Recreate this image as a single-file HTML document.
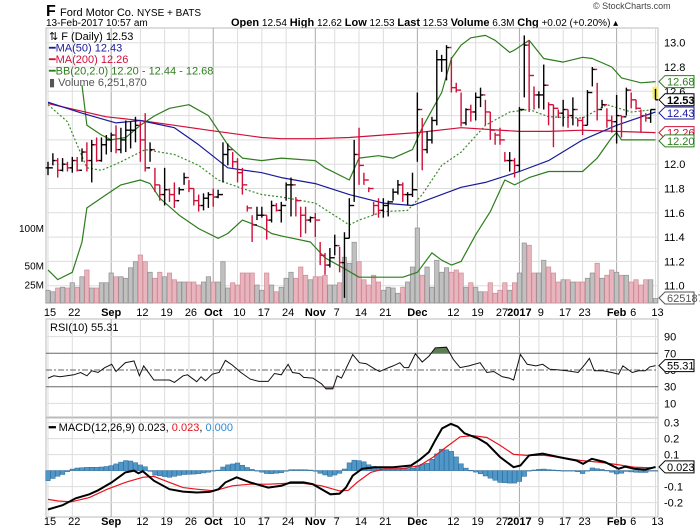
<!DOCTYPE html>
<html><head><meta charset="utf-8">
<style>
body{margin:0;background:#fff;width:700px;height:530px;overflow:hidden;font-family:"Liberation Sans",sans-serif}
svg{position:absolute;left:0;top:0}
text{font-family:"Liberation Sans",sans-serif}
</style></head>
<body>
<svg id="c" width="700" height="530" viewBox="0 0 700 530">
  <text x="46" y="16" font-size="16" font-weight="bold">F</text>
  <text x="60" y="16" font-size="11">Ford Motor Co. <tspan font-size="10">NYSE + BATS</tspan></text>
  <text x="593" y="9" font-size="9" fill="#444">© StockCharts.com</text>
  <text x="46" y="26" font-size="10">13-Feb-2017 10:57 am</text>
  <text x="231" y="26" font-size="10"><tspan font-weight="bold" font-size="11">Open</tspan> 12.54 <tspan font-weight="bold" font-size="11">High</tspan> 12.62 <tspan font-weight="bold" font-size="11">Low</tspan> 12.53 <tspan font-weight="bold" font-size="11">Last</tspan> 12.53 <tspan font-weight="bold" font-size="11">Volume</tspan> 6.3M <tspan font-weight="bold" font-size="11">Chg</tspan> +0.02 (+0.20%) ▴</text>
  <g id="g"></g>
</svg>
<script>
const hi=[12.02,12.09,12.05,12.05,12.02,12.06,12.06,12.13,12.18,12.20,12.22,12.22,12.24,12.26,12.32,12.30,12.36,12.35,12.39,12.35,12.42,12.18,11.97,11.83,11.97,11.80,11.85,11.81,11.93,11.87,11.80,11.75,11.76,11.77,11.80,11.79,12.18,12.17,12.10,12.05,11.97,11.66,11.58,11.65,11.65,11.58,11.70,11.68,11.69,11.85,11.89,11.73,11.65,11.65,11.57,11.60,11.36,11.27,11.31,11.42,11.32,11.44,11.72,12.20,12.30,11.93,11.81,11.69,11.72,11.72,11.70,11.80,11.87,11.85,11.77,11.93,12.59,12.38,12.27,12.39,12.94,12.90,12.98,12.88,12.67,12.59,12.46,12.49,12.59,12.63,12.53,12.43,12.26,12.30,12.10,12.10,12.05,12.47,13.06,13.02,12.64,12.60,12.82,12.51,12.49,12.45,12.53,12.45,12.55,12.38,12.39,12.61,12.80,12.67,12.53,12.46,12.40,12.57,12.40,12.63,12.59,12.53,12.45,12.42,12.45,12.62];
const lo=[11.91,11.99,11.89,11.94,11.94,11.93,11.94,12.02,11.94,11.85,12.02,12.02,12.08,12.10,12.09,12.09,12.10,12.13,12.18,12.02,11.94,12.02,11.77,11.70,11.66,11.69,11.64,11.75,11.83,11.77,11.66,11.61,11.62,11.64,11.65,11.72,11.85,11.99,11.97,11.85,11.75,11.61,11.36,11.54,11.56,11.38,11.52,11.61,11.52,11.70,11.57,11.57,11.40,11.43,11.52,11.40,11.17,11.09,11.15,11.25,11.11,10.90,11.39,11.69,11.83,11.83,11.77,11.58,11.56,11.56,11.57,11.70,11.75,11.69,11.66,11.73,12.02,11.95,12.09,12.17,12.32,12.76,12.69,12.59,12.59,12.31,12.32,12.35,12.36,12.47,12.32,12.20,12.16,12.16,12.02,11.94,11.89,11.94,12.55,12.43,12.45,12.46,12.45,12.32,12.14,12.38,12.31,12.30,12.32,12.31,12.24,12.32,12.64,12.36,12.46,12.30,12.26,12.17,12.22,12.40,12.46,12.45,12.26,12.35,12.34,12.53];
const cl=[11.97,12.03,11.95,12.00,11.97,12.03,11.95,12.10,12.03,12.16,12.03,12.16,12.20,12.24,12.12,12.20,12.28,12.28,12.32,12.20,11.97,12.12,11.83,11.75,11.79,11.75,11.70,11.79,11.89,11.80,11.70,11.66,11.72,11.75,11.73,11.75,12.08,12.12,12.02,11.93,11.83,11.64,11.50,11.58,11.58,11.54,11.66,11.62,11.66,11.83,11.83,11.70,11.58,11.54,11.56,11.54,11.25,11.17,11.23,11.33,11.19,11.39,11.66,12.08,11.99,11.87,11.80,11.66,11.62,11.66,11.69,11.77,11.83,11.75,11.75,11.79,12.45,12.12,12.20,12.36,12.86,12.86,12.96,12.63,12.61,12.34,12.45,12.43,12.55,12.57,12.43,12.28,12.24,12.20,12.03,12.03,11.99,12.45,12.98,12.73,12.57,12.57,12.65,12.49,12.46,12.42,12.45,12.40,12.45,12.36,12.32,12.59,12.78,12.45,12.49,12.36,12.35,12.40,12.39,12.61,12.53,12.46,12.40,12.38,12.45,12.53];
const vol=[17,15,20,21,20,27,21,35,44,20,20,27,27,40,35,35,33,47,55,64,55,41,33,41,35,40,31,28,28,28,28,24,28,35,28,28,55,20,27,24,40,40,40,24,17,40,24,15,21,33,41,33,48,37,31,35,35,37,24,24,27,61,53,81,55,31,24,37,28,17,21,20,13,21,28,48,100,37,48,21,57,41,47,41,44,40,21,27,21,15,15,27,13,17,27,17,27,40,80,77,40,40,57,48,40,28,31,31,28,28,28,33,40,53,33,37,44,41,37,37,28,31,24,31,31,6];
const ma50I=[0,7,14,19,26,31,37,44,48,55,62,69,75,79,85,90,97,103,110,117,125];
const ma50V=[12.51,12.42,12.34,12.36,12.30,12.16,11.97,11.93,11.89,11.84,11.75,11.68,11.66,11.72,11.81,11.85,11.94,12.03,12.20,12.32,12.43];
const ma200I=[0,12,19,26,33,44,48,55,62,69,76,85,97,103,110,117,125];
const ma200V=[12.50,12.39,12.36,12.32,12.28,12.22,12.21,12.21,12.22,12.24,12.26,12.30,12.27,12.27,12.28,12.27,12.26];
const bbUI=[7,8,11,13,16,19,22,25,29,33,35,37,40,44,48,55,57,62,64,68,71,75,77,81,83,85,87,90,92,95,96,99,102,106,110,112,116,118,122,125];
const bbUV=[12.65,12.32,12.24,12.20,12.22,12.32,12.40,12.46,12.49,12.40,12.28,12.16,12.05,12.03,12.05,12.03,11.97,11.87,12.05,12.07,12.05,12.12,12.30,12.59,12.87,12.98,13.04,13.06,13.02,12.92,12.94,13.02,12.87,12.84,12.88,12.87,12.80,12.71,12.67,12.68];
const bbLI=[0,2,5,7,8,12,15,19,21,23,27,31,35,37,40,44,46,48,54,57,61,64,69,73,76,79,81,83,85,88,91,94,96,99,103,110,113,116,117,118,125];
const bbLV=[11.13,11.05,11.11,11.36,11.64,11.75,11.83,11.87,11.84,11.72,11.58,11.47,11.39,11.43,11.54,11.48,11.43,11.41,11.36,11.23,11.14,11.07,11.07,11.07,11.11,11.27,11.21,11.17,11.20,11.42,11.61,11.87,11.83,11.89,11.94,11.94,12.05,12.22,12.26,12.20,12.20];
const bbMI=[0,4,8,11,15,20,26,31,35,40,44,48,55,62,64,69,74,77,81,85,90,95,99,103,110,115,120,125];
const bbMV=[12.49,12.35,11.97,11.95,12.02,12.12,12.08,11.99,11.87,11.80,11.75,11.73,11.68,11.50,11.54,11.61,11.62,11.75,11.99,12.10,12.32,12.43,12.45,12.39,12.38,12.49,12.43,12.45];
const rsiI=[0,1.2,2.5,3.9,5.3,6.7,8,9,10.3,11.7,13.1,14,15.9,17.7,18.8,19.7,21.8,25,26,27.8,28.7,30.6,31.5,32.4,33.8,35.2,36.5,37.9,39.7,41.6,43.4,45.3,46.6,48,49.4,50.3,51.7,52.6,54.5,56.3,57.2,58.6,59.5,60.4,62.7,64.1,65.5,67.3,68.2,70.1,71,72.4,73.3,74.2,75.6,77,78.4,79.7,82,83.4,84.8,86.6,88.9,90.3,91.7,93.5,94.9,95.8,97.2,98.6,100.4,101.8,103.2,105,106.8,109.1,110.5,111.4,112.4,114.2,116,117.4,118.3,120.2,121.5,122.9,123.8,125];
const rsiV=[40.3,43.1,41.9,43.1,44.3,47,43.1,49,47,52.9,56.8,48.2,58.8,60.8,43.1,54.9,38,38,35.2,43.1,44.3,36,41.9,37.2,45,47,61.5,56,47,39.1,36.4,36.4,45.8,44.3,56.8,47,45.8,41.1,40.3,33.3,27.4,27.4,43.1,40.3,68.6,58.8,57.6,50.9,48.2,52.9,54.9,58.8,52.9,52.9,69.4,59.6,66.7,76.5,77.3,62.7,52.9,54.9,58.8,47,48.2,41.9,40.3,38,68.6,56.8,54.9,56.8,50.9,50.1,49,47,56.8,63.9,49,49,47,45,54.9,47,49,49,53.7,55.31];
const macdI=[0,3,5.7,8.5,10.3,13.1,15.9,17.7,18.6,19.5,21.8,25,27.8,30.6,33.3,35.1,36.5,38.8,41.6,45.3,48,49.9,52.6,54.5,56.3,58.1,60,61.3,62.7,64.6,67.3,71,74.7,76.5,78.4,79.7,81.1,82.9,84.3,85.7,88.5,90.3,93,95.8,97.2,99,101.8,105,108.7,110.1,111.9,114.6,117.4,118.8,120.6,122.9,124.3,125];
const macdV=[-0.243,-0.216,-0.173,-0.148,-0.123,-0.074,-0.011,0,-0.017,-0.004,-0.063,-0.116,-0.131,-0.137,-0.133,-0.116,-0.074,-0.042,-0.074,-0.106,-0.095,-0.074,-0.074,-0.085,-0.116,-0.148,-0.144,-0.106,-0.032,0.011,0.021,0.021,0.032,0.068,0.116,0.19,0.264,0.292,0.275,0.233,0.201,0.169,0.085,0.021,0.032,0.095,0.106,0.085,0.063,0.042,0.074,0.053,0.011,0.025,0.011,0.006,0.017,0.023];
const sigI=[0,2.1,4.8,8.5,12.2,15.9,19.5,21.8,25,27.8,30.6,34.2,37.9,41.6,45.3,49,52.6,56.3,60,61.8,63.6,66.4,69.2,72.8,76.5,79.3,82,84.8,87.5,90.3,93,95.8,98.6,102.2,105.9,109.6,113.3,117,120.6,124.3,125];
const sigV=[-0.18,-0.19,-0.195,-0.169,-0.116,-0.074,-0.042,-0.036,-0.074,-0.106,-0.116,-0.127,-0.095,-0.085,-0.085,-0.08,-0.08,-0.095,-0.127,-0.123,-0.074,-0.011,0.011,0.011,0.032,0.085,0.148,0.211,0.218,0.207,0.159,0.101,0.095,0.095,0.08,0.063,0.053,0.038,0.021,0.017,0.023];
const priceTicks=[11.0,11.2,11.4,11.6,11.8,12.0,12.2,12.4,12.6,12.8,13.0];
const volTicks=[25,50,100];
const volTickLbl=["25M","50M","100M"];
const rsiTicks=[10,30,50,70,90];
const macdTicks=[-0.2,-0.1,0,0.1,0.2,0.3];
const dateIdx=[0,5,13,19,24,29,34,39,44,49,55,59,64,69,76,83,88,93,97,101,106,110,117,120,125];
const dateLbl=["15","22","Sep","12","19","26","Oct","10","17","24","Nov","7","14","21","Dec","12","19","27","2017","9","17","23","Feb","6","13"];
const monthFlag=[0,0,1,0,0,0,1,0,0,0,1,0,0,0,1,0,0,0,1,0,0,0,1,0,0];

const L=46,R=658;
const X=i=>48+i*4.86;
const PY=p=>42.7+(13-p)*121.5;
const VY=v=>303-v*0.75;
const RY=v=>370-(v-50)*0.835;
const MY=v=>470.6-v*160;
const NS="http://www.w3.org/2000/svg";
const g=document.getElementById('g');
function mk(t,a,parent){const e=document.createElementNS(NS,t);for(const k in a)e.setAttribute(k,a[k]);(parent||g).appendChild(e);return e;}
function smooth(I,V,f){let d='';for(let k=0;k<I.length;k++){d+=(k?'L':'M')+X(I[k]).toFixed(1)+','+f(V[k]).toFixed(1);}return d;}
function interp(I,V,t){if(t<=I[0])return V[0];for(let k=1;k<I.length;k++){if(t<=I[k]){const r=(t-I[k-1])/(I[k]-I[k-1]);return V[k-1]+r*(V[k]-V[k-1]);}}return V[V.length-1];}

// panels
const panels=[[28,303,'price-panel'],[319,417,'rsi-panel'],[418,517,'macd-panel']];
panels.forEach(p=>{
  const r=mk('rect',{x:L,y:p[0],width:R-L,height:p[1]-p[0],fill:'#fff',stroke:'#bbb'});
  
  
});
// vertical grid
dateIdx.forEach((d,k)=>{
  panels.forEach(p=>{
    const ln=mk('line',{x1:X(d),x2:X(d),y1:p[0],y2:p[1],stroke:monthFlag[k]?'#aaa':'#ddd'});
    
    
  });
});
// price grid + labels
priceTicks.forEach(p=>{
  const ln=mk('line',{x1:L,x2:R,y1:PY(p),y2:PY(p),stroke:'#ddd'});
  
  
  const t=mk('text',{x:664,y:PY(p)+4,'font-size':11});
  t.textContent=p.toFixed(1);
  
  
});
volTicks.forEach((v,k)=>{
  const t=mk('text',{x:44,y:VY(v)+4,'font-size':10,'text-anchor':'end'});
  t.textContent=volTickLbl[k];
  
  
});
// volume bars
vol.forEach((v,i)=>{
  const up=i===0||cl[i]>=cl[i-1];
  const r=mk('rect',{x:X(i)-2.2,y:VY(v),width:4.4,height:303-VY(v),fill:up?'#c0c0c0':'#e8b4bd',stroke:up?'#909090':'#d08a96','stroke-width':0.7});
  
  
});
// bands and MAs
[[bbUI,bbUV,'#2e7d1e','','bb-upper'],[bbLI,bbLV,'#2e7d1e','','bb-lower'],[bbMI,bbMV,'#3a8a2a','2,2','bb-middle'],[ma200I,ma200V,'#d0103a','','ma200-line'],[ma50I,ma50V,'#1a1a99','','ma50-line']].forEach(s=>{
  const p=mk('path',{d:smooth(s[0],s[1],PY),fill:'none',stroke:s[2],'stroke-width':1.2,'stroke-dasharray':s[3],'stroke-linejoin':'round'});
  
  
});
// yellow highlight last
const hl=mk('rect',{x:X(125)-3,y:PY(12.63)-1,width:6,height:12,fill:'#f5f060'});


// OHLC bars
cl.forEach((c,i)=>{
  const o=i===0?c:cl[i-1];
  const col=(i===0||c>=cl[i-1])?'#000':'#d0103a';
  const x=X(i);
  const grp=mk('g',{stroke:col,'stroke-width':1.4});
  
  
  mk('line',{x1:x,x2:x,y1:PY(hi[i]),y2:PY(lo[i])},grp);
  mk('line',{x1:x-2.5,x2:x,y1:PY(o),y2:PY(o)},grp);
  mk('line',{x1:x,x2:x+2.5,y1:PY(c),y2:PY(c)},grp);
});
// value boxes
function tag(y,txt,col,bold,name){
  const grp=mk('g',{});
  
  
  mk('path',{d:`M659,${y} L665,${y-6} L694,${y-6} L694,${y+6} L665,${y+6}Z`,fill:'#fff',stroke:col},grp);
  const t=mk('text',{x:667,y:y+4,'font-size':11,fill:bold?'#000':col,'font-weight':bold?'bold':'normal'},grp);
  t.textContent=txt;
}
tag(PY(12.68),'12.68','#2e7d1e',0,'bb-upper-value-tag');
tag(PY(12.53),'12.53','#000',1,'last-price-tag');
tag(PY(12.43)+1,'12.43','#1a1a99',0,'ma50-value-tag');
tag(PY(12.26),'12.26','#d0103a',0,'ma200-value-tag');
tag(PY(12.20)+1,'12.20','#2e7d1e',0,'bb-lower-value-tag');
tag(298,'6251870','#555',0,'volume-value-tag');
// date labels
[313,522].forEach(yy=>{
  dateIdx.forEach((d,k)=>{
    const t=mk('text',{x:X(d)+(monthFlag[k]?0:2),y:yy+3,'font-size':11,'text-anchor':'middle','font-weight':monthFlag[k]?'bold':'normal'});
    t.textContent=dateLbl[k];
    
    
  });
});
// RSI
rsiTicks.forEach(v=>{
  if(v===30||v===70){const ln=mk('line',{x1:L,x2:R,y1:RY(v),y2:RY(v),stroke:'#666'});}
  else if(v===50){const ln=mk('line',{x1:L,x2:R,y1:RY(v),y2:RY(v),stroke:'#666','stroke-dasharray':'6,2,2,2'});}
  else {const ln=mk('line',{x1:L,x2:R,y1:RY(v),y2:RY(v),stroke:'#ddd'});}
  const t=mk('text',{x:664,y:RY(v)+4,'font-size':11});
  t.textContent=v;
  
  
});
const defs=mk('defs',{});
const c1=mk('clipPath',{id:'ob'},defs);mk('rect',{x:L,y:319,width:R-L,height:RY(70)-319},c1);
const c2=mk('clipPath',{id:'os'},defs);mk('rect',{x:L,y:RY(30),width:R-L,height:417-RY(30)},c2);
const rd=smooth(rsiI,rsiV,RY);
const f1=mk('path',{d:rd+`L${X(125)},${RY(70)}L${X(0)},${RY(70)}Z`,fill:'#5f7d55','clip-path':'url(#ob)'});


const f2=mk('path',{d:rd+`L${X(125)},${RY(30)}L${X(0)},${RY(30)}Z`,fill:'#8a6a8a','clip-path':'url(#os)'});


const rl=mk('path',{d:rd,fill:'none',stroke:'#111','stroke-width':1});


tag(RY(55.31),'55.31','#000',0,'rsi-value-tag');
const rt=mk('text',{x:50,y:331,'font-size':11});
rt.textContent='RSI(10) 55.31';


// MACD
macdTicks.forEach(v=>{
  const ln=mk('line',{x1:L,x2:R,y1:MY(v),y2:MY(v),stroke:'#ddd'});
  
  
  const t=mk('text',{x:664,y:MY(v)+4,'font-size':11});
  t.textContent=v===0?'':String(v);
  
  
});
for(let i=0;i<=125;i++){
  const h=interp(macdI,macdV,i)-interp(sigI,sigV,i);
  const y0=MY(0),y1=MY(h);
  const r=mk('rect',{x:X(i)-2.3,y:Math.min(y0,y1),width:4.6,height:Math.max(0.5,Math.abs(y1-y0)),fill:'#4f97c8',stroke:'#2a6a98','stroke-width':0.5});
  
  
}
const sl=mk('path',{d:smooth(sigI,sigV,MY),fill:'none',stroke:'#e8141e','stroke-width':1.2});


const ml=mk('path',{d:smooth(macdI,macdV,MY),fill:'none',stroke:'#000','stroke-width':2});


tag(MY(0.023),'0.023','#000',0,'macd-value-tag');
const mt=mk('text',{x:49,y:431,'font-size':11});
mt.innerHTML='<tspan font-weight="bold">━</tspan> MACD(12,26,9) 0.023, <tspan fill="#e8141e">0.023</tspan>, <tspan fill="#2a8ad0">0.000</tspan>';


// price legend
const leg=[['F (Daily) 12.53','#000'],['MA(50) 12.43','#1a1a99'],['MA(200) 12.26','#d0103a'],['BB(20,2.0) 12.20 - 12.44 - 12.68','#2e7d1e'],['Volume 6,251,870','#555']];
leg.forEach((l,k)=>{
  const t=mk('text',{x:49,y:40+k*11.5,'font-size':11,fill:l[1]});
  t.textContent=(k===0?'⇅ ':k===4?'▮ ':'━')+l[0];
  
  
});
</script>
</body></html>
